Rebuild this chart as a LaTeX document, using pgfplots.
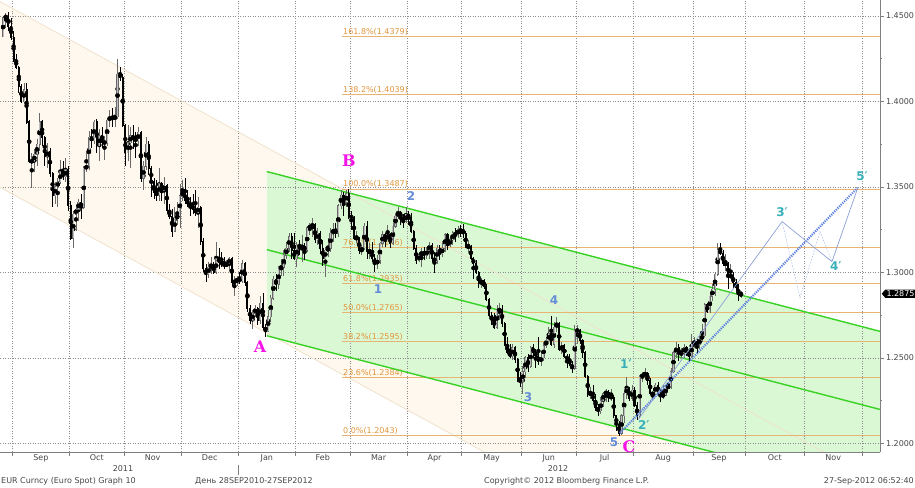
\documentclass[border=0pt]{standalone}
\usepackage{pgfplots}
\pgfplotsset{compat=1.18}
\usepackage{pgfplotstable}
\usepackage{fontspec}
\setmainfont{DejaVu Sans}
\newfontfamily\serifb{DejaVu Serif}
\usetikzlibrary{shapes.symbols}
\definecolor{gridc}{RGB}{140,140,140}
\definecolor{axc}{RGB}{128,128,128}
\definecolor{labc}{RGB}{70,70,70}
\definecolor{fibl}{RGB}{232,180,115}
\definecolor{fibt}{RGB}{226,150,60}
\definecolor{grl}{RGB}{55,210,35}
\definecolor{grf}{RGB}{218,248,212}
\definecolor{bgf}{RGB}{254,248,238}
\definecolor{bgl}{RGB}{240,226,205}
\definecolor{upc}{RGB}{105,105,105}
\definecolor{upi}{RGB}{190,190,190}
\definecolor{upw}{RGB}{105,105,105}
\definecolor{mag}{RGB}{245,20,230}
\definecolor{wblue}{RGB}{100,140,215}
\definecolor{wteal}{RGB}{55,175,185}
\definecolor{prj}{RGB}{140,160,215}
\definecolor{prjd}{RGB}{95,130,225}

\pgfplotstableread{
x o h l c
-4 1.4380 1.4500 1.4375 1.4490
-3 1.4490 1.4520 1.4440 1.4500
-2 1.4500 1.4525 1.4410 1.4440
-1 1.4440 1.4490 1.4360 1.4375
0 1.4375 1.4415 1.4230 1.4245
1 1.4245 1.4280 1.4190 1.4200
2 1.4200 1.4210 1.4050 1.4090
3 1.4090 1.4100 1.3990 1.4000
4 1.4000 1.4110 1.3990 1.4070
5 1.4070 1.4110 1.3870 1.3880
6 1.3880 1.3890 1.3640 1.3650
7 1.3650 1.3700 1.3495 1.3650
8 1.3650 1.3720 1.3590 1.3690
9 1.3690 1.3780 1.3620 1.3750
10 1.3750 1.3935 1.3710 1.3880
11 1.3880 1.3890 1.3740 1.3790
12 1.3790 1.3800 1.3620 1.3680
13 1.3680 1.3760 1.3610 1.3710
14 1.3710 1.3730 1.3560 1.3580
15 1.3580 1.3590 1.3385 1.3450
16 1.3450 1.3530 1.3400 1.3500
17 1.3500 1.3550 1.3380 1.3530
18 1.3530 1.3660 1.3520 1.3590
19 1.3590 1.3650 1.3540 1.3560
20 1.3560 1.3670 1.3530 1.3600
21 1.3600 1.3620 1.3360 1.3390
22 1.3390 1.3420 1.3190 1.3200
23 1.3200 1.3360 1.3145 1.3340
24 1.3340 1.3380 1.3240 1.3370
25 1.3370 1.3430 1.3300 1.3410
26 1.3410 1.3460 1.3310 1.3380
27 1.3380 1.3620 1.3370 1.3610
28 1.3610 1.3710 1.3590 1.3620
29 1.3620 1.3830 1.3600 1.3790
30 1.3790 1.3840 1.3730 1.3770
31 1.3770 1.3890 1.3750 1.3880
32 1.3880 1.3900 1.3700 1.3740
33 1.3740 1.3840 1.3650 1.3800
34 1.3800 1.3850 1.3730 1.3760
35 1.3760 1.3800 1.3660 1.3760
36 1.3760 1.3900 1.3740 1.3890
37 1.3890 1.3950 1.3850 1.3910
38 1.3910 1.3960 1.3850 1.3900
39 1.3900 1.3970 1.3850 1.3910
40 1.3910 1.4247 1.3900 1.4160
41 1.4160 1.4200 1.4120 1.4140
42 1.4140 1.4160 1.3850 1.3860
43 1.3860 1.3870 1.3620 1.3700
44 1.3700 1.3860 1.3650 1.3760
45 1.3760 1.3850 1.3610 1.3800
46 1.3800 1.3860 1.3720 1.3780
47 1.3780 1.3820 1.3670 1.3770
48 1.3770 1.3850 1.3740 1.3820
49 1.3820 1.3830 1.3530 1.3550
50 1.3550 1.3650 1.3480 1.3620
51 1.3620 1.3790 1.3600 1.3750
52 1.3750 1.3770 1.3570 1.3610
53 1.3610 1.3620 1.3440 1.3530
54 1.3530 1.3550 1.3430 1.3470
55 1.3470 1.3540 1.3420 1.3450
56 1.3450 1.3610 1.3420 1.3520
57 1.3520 1.3530 1.3420 1.3480
58 1.3480 1.3560 1.3400 1.3510
59 1.3510 1.3520 1.3350 1.3360
60 1.3360 1.3400 1.3310 1.3330
61 1.3330 1.3370 1.3210 1.3240
62 1.3240 1.3380 1.3240 1.3320
63 1.3320 1.3410 1.3280 1.3330
64 1.3330 1.3520 1.3260 1.3450
65 1.3450 1.3540 1.3420 1.3470
66 1.3470 1.3550 1.3400 1.3420
67 1.3420 1.3480 1.3380 1.3400
68 1.3400 1.3440 1.3330 1.3390
69 1.3390 1.3460 1.3340 1.3370
70 1.3370 1.3480 1.3330 1.3350
71 1.3350 1.3440 1.3260 1.3380
72 1.3380 1.3390 1.3160 1.3180
73 1.3180 1.3200 1.3000 1.3020
74 1.3020 1.3050 1.2945 1.2990
75 1.2990 1.3060 1.2970 1.3030
76 1.3030 1.3090 1.2990 1.3040
77 1.3040 1.3060 1.2990 1.3000
78 1.3000 1.3180 1.2990 1.3080
79 1.3080 1.3140 1.3020 1.3060
80 1.3060 1.3120 1.3030 1.3050
81 1.3050 1.3090 1.3020 1.3040
82 1.3040 1.3070 1.3030 1.3050
83 1.3050 1.3090 1.3010 1.3080
84 1.3080 1.3090 1.2920 1.2940
85 1.2940 1.2980 1.2860 1.2950
86 1.2950 1.2980 1.2920 1.2960
87 1.2960 1.3000 1.2930 1.2950
88 1.2950 1.3075 1.2940 1.3050
89 1.3050 1.3060 1.2920 1.2940
90 1.2940 1.2950 1.2770 1.2790
91 1.2790 1.2810 1.2700 1.2720
92 1.2720 1.2780 1.2670 1.2760
93 1.2760 1.2810 1.2740 1.2790
94 1.2790 1.2800 1.2690 1.2720
95 1.2720 1.2860 1.2700 1.2820
96 1.2820 1.2880 1.2660 1.2680
97 1.2680 1.2700 1.2624 1.2660
98 1.2660 1.2780 1.2650 1.2740
99 1.2740 1.2870 1.2710 1.2850
100 1.2850 1.2980 1.2840 1.2960
101 1.2960 1.2990 1.2890 1.2930
102 1.2930 1.3040 1.2900 1.3020
103 1.3020 1.3080 1.2980 1.3030
104 1.3030 1.3130 1.2980 1.3100
105 1.3100 1.3180 1.3080 1.3140
106 1.3140 1.3230 1.3120 1.3210
107 1.3210 1.3230 1.3080 1.3130
108 1.3130 1.3230 1.3070 1.3080
109 1.3080 1.3180 1.3030 1.3160
110 1.3160 1.3190 1.3100 1.3150
111 1.3150 1.3220 1.3060 1.3150
112 1.3150 1.3170 1.3070 1.3130
113 1.3130 1.3270 1.3120 1.3260
114 1.3260 1.3290 1.3220 1.3270
115 1.3270 1.3320 1.3210 1.3280
116 1.3280 1.3290 1.3170 1.3190
117 1.3190 1.3260 1.3160 1.3230
118 1.3230 1.3240 1.3110 1.3140
119 1.3140 1.3190 1.3040 1.3080
120 1.3080 1.3150 1.2975 1.3130
121 1.3130 1.3200 1.3090 1.3140
122 1.3140 1.3260 1.3120 1.3230
123 1.3230 1.3290 1.3180 1.3250
124 1.3250 1.3290 1.3200 1.3230
125 1.3230 1.3400 1.3210 1.3390
126 1.3390 1.3480 1.3370 1.3450
127 1.3450 1.3470 1.3330 1.3410
128 1.3410 1.3480 1.3380 1.3460
129 1.3460 1.3487 1.3310 1.3330
130 1.3330 1.3360 1.3250 1.3320
131 1.3320 1.3330 1.3190 1.3200
132 1.3200 1.3240 1.3170 1.3200
133 1.3200 1.3210 1.3110 1.3130
134 1.3130 1.3160 1.3100 1.3140
135 1.3140 1.3290 1.3130 1.3270
136 1.3270 1.3300 1.3080 1.3120
137 1.3120 1.3170 1.3080 1.3120
138 1.3120 1.3180 1.3060 1.3080
139 1.3080 1.3110 1.3000 1.3050
140 1.3050 1.3100 1.3020 1.3070
141 1.3070 1.3180 1.3050 1.3170
142 1.3170 1.3240 1.3150 1.3220
143 1.3220 1.3230 1.3150 1.3200
144 1.3200 1.3280 1.3190 1.3220
145 1.3220 1.3230 1.3140 1.3170
146 1.3170 1.3290 1.3160 1.3270
147 1.3270 1.3350 1.3260 1.3330
148 1.3330 1.3385 1.3310 1.3350
149 1.3350 1.3360 1.3280 1.3320
150 1.3320 1.3340 1.3260 1.3300
151 1.3300 1.3380 1.3290 1.3340
152 1.3340 1.3360 1.3280 1.3320
153 1.3320 1.3350 1.3230 1.3240
154 1.3240 1.3250 1.3130 1.3140
155 1.3140 1.3160 1.3050 1.3070
156 1.3070 1.3120 1.3060 1.3100
157 1.3100 1.3140 1.3030 1.3120
158 1.3120 1.3150 1.3070 1.3100
159 1.3100 1.3150 1.3080 1.3130
160 1.3130 1.3180 1.3080 1.3160
161 1.3160 1.3170 1.3060 1.3080
162 1.3080 1.3120 1.2995 1.3070
163 1.3070 1.3160 1.3050 1.3140
164 1.3140 1.3160 1.3070 1.3110
165 1.3110 1.3170 1.3090 1.3140
166 1.3140 1.3230 1.3120 1.3220
167 1.3220 1.3230 1.3130 1.3160
168 1.3160 1.3210 1.3150 1.3190
169 1.3190 1.3240 1.3160 1.3230
170 1.3230 1.3260 1.3180 1.3220
171 1.3220 1.3270 1.3200 1.3250
172 1.3250 1.3280 1.3210 1.3240
173 1.3240 1.3283 1.3200 1.3230
174 1.3230 1.3240 1.3140 1.3150
175 1.3150 1.3190 1.3120 1.3150
176 1.3150 1.3160 1.3070 1.3080
177 1.3080 1.3090 1.2960 1.3050
178 1.3050 1.3070 1.2990 1.3000
179 1.3000 1.3010 1.2910 1.2940
180 1.2940 1.2970 1.2910 1.2950
181 1.2950 1.2960 1.2900 1.2920
182 1.2920 1.2930 1.2830 1.2840
183 1.2840 1.2850 1.2740 1.2750
184 1.2750 1.2770 1.2690 1.2720
185 1.2720 1.2760 1.2670 1.2680
186 1.2680 1.2810 1.2670 1.2780
187 1.2780 1.2820 1.2720 1.2780
188 1.2780 1.2810 1.2680 1.2700
189 1.2700 1.2710 1.2570 1.2580
190 1.2580 1.2620 1.2520 1.2530
191 1.2530 1.2580 1.2500 1.2510
192 1.2510 1.2580 1.2490 1.2560
193 1.2560 1.2570 1.2470 1.2490
194 1.2490 1.2500 1.2360 1.2370
195 1.2370 1.2420 1.2330 1.2360
196 1.2360 1.2450 1.2288 1.2420
197 1.2420 1.2510 1.2380 1.2500
198 1.2500 1.2520 1.2420 1.2450
199 1.2450 1.2570 1.2440 1.2560
200 1.2560 1.2580 1.2500 1.2530
201 1.2530 1.2550 1.2440 1.2510
202 1.2510 1.2620 1.2460 1.2480
203 1.2480 1.2530 1.2450 1.2500
204 1.2500 1.2590 1.2480 1.2570
205 1.2570 1.2620 1.2560 1.2600
206 1.2600 1.2680 1.2590 1.2640
207 1.2640 1.2747 1.2570 1.2580
208 1.2580 1.2710 1.2560 1.2680
209 1.2680 1.2740 1.2650 1.2700
210 1.2700 1.2710 1.2540 1.2550
211 1.2550 1.2590 1.2520 1.2570
212 1.2570 1.2580 1.2500 1.2510
213 1.2510 1.2520 1.2440 1.2490
214 1.2490 1.2520 1.2450 1.2460
215 1.2460 1.2480 1.2410 1.2440
216 1.2440 1.2690 1.2430 1.2660
217 1.2660 1.2690 1.2580 1.2660
218 1.2660 1.2670 1.2580 1.2600
219 1.2600 1.2610 1.2500 1.2530
220 1.2530 1.2540 1.2380 1.2390
221 1.2390 1.2400 1.2270 1.2290
222 1.2290 1.2330 1.2260 1.2290
223 1.2290 1.2340 1.2240 1.2250
224 1.2250 1.2290 1.2190 1.2210
225 1.2210 1.2230 1.2160 1.2190
226 1.2190 1.2270 1.2170 1.2250
227 1.2250 1.2300 1.2210 1.2290
228 1.2290 1.2320 1.2240 1.2300
229 1.2300 1.2310 1.2240 1.2270
230 1.2270 1.2320 1.2250 1.2270
231 1.2270 1.2280 1.2150 1.2160
232 1.2160 1.2160 1.2070 1.2110
233 1.2110 1.2130 1.2043 1.2060
234 1.2060 1.2170 1.2050 1.2160
235 1.2160 1.2320 1.2120 1.2290
236 1.2290 1.2390 1.2260 1.2320
237 1.2320 1.2330 1.2250 1.2260
238 1.2260 1.2340 1.2250 1.2310
239 1.2310 1.2330 1.2210 1.2220
240 1.2220 1.2240 1.2135 1.2160
241 1.2160 1.2400 1.2150 1.2390
242 1.2390 1.2420 1.2360 1.2400
243 1.2400 1.2440 1.2370 1.2410
244 1.2410 1.2420 1.2340 1.2370
245 1.2370 1.2380 1.2280 1.2290
246 1.2290 1.2300 1.2260 1.2290
247 1.2290 1.2350 1.2280 1.2340
248 1.2340 1.2360 1.2280 1.2290
249 1.2290 1.2320 1.2240 1.2280
250 1.2280 1.2340 1.2260 1.2280
251 1.2280 1.2340 1.2280 1.2330
252 1.2330 1.2360 1.2320 1.2330
253 1.2330 1.2440 1.2320 1.2420
254 1.2420 1.2540 1.2410 1.2530
255 1.2530 1.2590 1.2500 1.2560
256 1.2560 1.2580 1.2480 1.2520
257 1.2520 1.2560 1.2500 1.2530
258 1.2530 1.2580 1.2500 1.2560
259 1.2560 1.2570 1.2510 1.2530
260 1.2530 1.2560 1.2480 1.2510
261 1.2510 1.2640 1.2500 1.2580
262 1.2580 1.2620 1.2560 1.2590
263 1.2590 1.2610 1.2520 1.2580
264 1.2580 1.2630 1.2550 1.2610
265 1.2610 1.2700 1.2590 1.2630
266 1.2630 1.2820 1.2620 1.2810
267 1.2810 1.2820 1.2760 1.2770
268 1.2770 1.2880 1.2760 1.2860
269 1.2860 1.2930 1.2830 1.2900
270 1.2900 1.3000 1.2860 1.2990
271 1.2990 1.3172 1.2980 1.3130
272 1.3130 1.3170 1.3100 1.3110
273 1.3110 1.3130 1.3040 1.3050
274 1.3050 1.3110 1.3010 1.3050
275 1.3050 1.3060 1.2900 1.2980
276 1.2980 1.3050 1.2960 1.2980
277 1.2980 1.3000 1.2910 1.2940
278 1.2940 1.2960 1.2890 1.2910
279 1.2910 1.2930 1.2830 1.2870
280 1.2870 1.2890 1.2850 1.2875
}\eur

\begin{document}
\begin{tikzpicture}
\begin{axis}[
  set layers,
  clip mode=individual,
  width=880pt, height=452pt, scale only axis,
  at={(0pt,35pt)}, anchor=south west,
  xmin=-5.23, xmax=333.5, ymin=1.1949, ymax=1.4594,
  axis x line*=bottom, axis y line*=right,
  axis line style={draw=axc, line width=0.7pt, -},
  tick align=outside,
  major tick length=3.5pt, minor tick length=2pt,
  tick style={draw=axc, line width=0.6pt},
  xtick={-0.5,21.5,42.5,64.5,86.5,108.5,129.5,151.5,172.5,195.5,216.5,238.5,261.5,281.5,304.5,326.5},
  xticklabels={,,,,,,,,,,,,,,,},
  extra x ticks={10.5,32,53.5,75.5,97.5,119,140.5,162,184,206,227.5,250,271.5,293,315.5},
  extra x tick labels={Sep,Oct,Nov,Dec,Jan,Feb,Mar,Apr,May,Jun,Jul,Aug,Sep,Oct,Nov},
  extra x tick style={grid=none, major tick length=0pt},
  xticklabel style={font=\fontsize{8}{9}\selectfont, text=labc, yshift=1pt},
  ytick={1.20,1.25,1.30,1.35,1.40,1.45},
  minor ytick={1.225,1.275,1.325,1.375,1.425},
  yticklabel style={font=\fontsize{8}{9}\selectfont, text=labc, xshift=-1pt,
    /pgf/number format/.cd, fixed, fixed zerofill, precision=4, assume math mode=true},
  grid=major,
  major grid style={draw=gridc, line width=0.5pt, dash pattern=on 1pt off 1.5pt},
]
% beige wide channel
\addplot[on layer=axis background, fill=bgf, draw=none] coordinates {(-5.23,1.4585) (333.5,1.1768) (333.5,1.0683) (-5.23,1.3498)} -- cycle;
% green channel fill
\addplot[on layer=axis background, fill=grf, draw=none] coordinates {(97.5,1.3590) (333.5,1.2655) (333.5,1.1694) (97.5,1.2629)} -- cycle;
% beige channel lines
\addplot[draw=bgl, line width=0.8pt] coordinates {(-5.23,1.4585) (333.5,1.1768)};
\addplot[draw=bgl, line width=0.8pt] coordinates {(-5.23,1.3498) (333.5,1.0683)};
% Fibonacci levels
\addplot[draw=fibl, line width=0.9pt] coordinates {(126.4,1.4379) (333.5,1.4379)} node[pos=0, anchor=south west, inner sep=0.8pt, text=fibt, font=\fontsize{8}{9}\selectfont] {161.8\%(1.4379)};
\addplot[draw=fibl, line width=0.9pt] coordinates {(126.4,1.4039) (333.5,1.4039)} node[pos=0, anchor=south west, inner sep=0.8pt, text=fibt, font=\fontsize{8}{9}\selectfont] {138.2\%(1.4039)};
\addplot[draw=fibl, line width=0.9pt] coordinates {(126.4,1.3487) (333.5,1.3487)} node[pos=0, anchor=south west, inner sep=0.8pt, text=fibt, font=\fontsize{8}{9}\selectfont] {100.0\%(1.3487)};
\addplot[draw=fibl, line width=0.9pt] coordinates {(126.4,1.3146) (333.5,1.3146)} node[pos=0, anchor=south west, inner sep=0.8pt, text=fibt, font=\fontsize{8}{9}\selectfont] {76.4\%(1.3146)};
\addplot[draw=fibl, line width=0.9pt] coordinates {(126.4,1.2935) (333.5,1.2935)} node[pos=0, anchor=south west, inner sep=0.8pt, text=fibt, font=\fontsize{8}{9}\selectfont] {61.8\%(1.2935)};
\addplot[draw=fibl, line width=0.9pt] coordinates {(126.4,1.2765) (333.5,1.2765)} node[pos=0, anchor=south west, inner sep=0.8pt, text=fibt, font=\fontsize{8}{9}\selectfont] {50.0\%(1.2765)};
\addplot[draw=fibl, line width=0.9pt] coordinates {(126.4,1.2595) (333.5,1.2595)} node[pos=0, anchor=south west, inner sep=0.8pt, text=fibt, font=\fontsize{8}{9}\selectfont] {38.2\%(1.2595)};
\addplot[draw=fibl, line width=0.9pt] coordinates {(126.4,1.2384) (333.5,1.2384)} node[pos=0, anchor=south west, inner sep=0.8pt, text=fibt, font=\fontsize{8}{9}\selectfont] {23.6\%(1.2384)};
\addplot[draw=fibl, line width=0.9pt] coordinates {(126.4,1.2043) (333.5,1.2043)} node[pos=0, anchor=south west, inner sep=0.8pt, text=fibt, font=\fontsize{8}{9}\selectfont] {0.0\%(1.2043)};
% green channel lines
\addplot[draw=grl, line width=1.4pt] coordinates {(97.5,1.3590) (333.5,1.2655)};
\addplot[draw=grl, line width=1.4pt] coordinates {(97.5,1.3133) (333.5,1.2198)};
\addplot[draw=grl, line width=1.4pt] coordinates {(97.5,1.2629) (333.5,1.1694)};
% candle wicks
\addplot[only marks, mark=none, restrict expr to domain={\thisrow{c}-\thisrow{o}}{0:1},
  error bars/.cd, y dir=both, y explicit, error mark=none, error bar style={draw=upw, line width=0.6pt}]
  table[x=x, y expr={(\thisrow{h}+\thisrow{l})/2}, y error expr={(\thisrow{h}-\thisrow{l})/2}] {\eur};
\addplot[only marks, mark=none, restrict expr to domain={\thisrow{c}-\thisrow{o}}{-1:-0.00001},
  error bars/.cd, y dir=both, y explicit, error mark=none, error bar style={draw=black, line width=0.6pt}]
  table[x=x, y expr={(\thisrow{h}+\thisrow{l})/2}, y error expr={(\thisrow{h}-\thisrow{l})/2}] {\eur};
% candle bodies: up (hollow grey), down (black)
\addplot[only marks, mark=none, restrict expr to domain={\thisrow{c}-\thisrow{o}}{0:1},
  error bars/.cd, y dir=both, y explicit, error mark=none, error bar style={draw=upc, line width=2.1pt}]
  table[x=x, y expr={(\thisrow{o}+\thisrow{c})/2}, y error expr={abs(\thisrow{c}-\thisrow{o})/2+0.0003}] {\eur};
\addplot[only marks, mark=none, restrict expr to domain={\thisrow{c}-\thisrow{o}}{0:1},
  error bars/.cd, y dir=both, y explicit, error mark=none, error bar style={draw=upi, line width=0.8pt}]
  table[x=x, y expr={(\thisrow{o}+\thisrow{c})/2}, y error expr={abs(\thisrow{c}-\thisrow{o})/2}] {\eur};
\addplot[only marks, mark=none, restrict expr to domain={\thisrow{c}-\thisrow{o}}{-1:-0.00001},
  error bars/.cd, y dir=both, y explicit, error mark=none, error bar style={draw=black, line width=2.1pt}]
  table[x=x, y expr={(\thisrow{o}+\thisrow{c})/2}, y error expr={abs(\thisrow{c}-\thisrow{o})/2+0.0003}] {\eur};
% projections
\addplot[draw=prjd, line width=2.2pt, dash pattern=on 1.2pt off 1.1pt] coordinates {(233.4,1.2060) (325.0,1.3497)};
\addplot[draw=prj, line width=0.7pt] coordinates {(240.5,1.2140) (295.8,1.3297) (315.0,1.3063) (325.0,1.3497)};
\addplot[draw=prj!70, line width=0.6pt, dash pattern=on 1.5pt off 1.5pt] coordinates {(295.8,1.3297) (302.7,1.2852) (310.4,1.3239) (315.0,1.3063)};
% wave labels
\node[text=mag, font=\serifb\bfseries\fontsize{16}{16}\selectfont] at (axis cs:94.9,1.2565) {A};
\node[text=mag, font=\serifb\bfseries\fontsize{16}{16}\selectfont] at (axis cs:129.1,1.3654) {B};
\node[text=mag, font=\serifb\bfseries\fontsize{16}{16}\selectfont] at (axis cs:236.9,1.1978) {C};
\node[text=wblue, font=\bfseries\fontsize{12}{12}\selectfont] at (axis cs:140.3,1.2905) {1};
\node[text=wblue, font=\bfseries\fontsize{12}{12}\selectfont] at (axis cs:153.0,1.3444) {2};
\node[text=wblue, font=\bfseries\fontsize{12}{12}\selectfont] at (axis cs:198.0,1.2271) {3};
\node[text=wblue, font=\bfseries\fontsize{12}{12}\selectfont] at (axis cs:208.0,1.2840) {4};
\node[text=wblue, font=\bfseries\fontsize{12}{12}\selectfont] at (axis cs:231.1,1.2008) {5};
\node[text=wteal, font=\bfseries\fontsize{12}{12}\selectfont] at (axis cs:235.7,1.2466) {1′};
\node[text=wteal, font=\bfseries\fontsize{12}{12}\selectfont] at (axis cs:242.6,1.2108) {2′};
\node[text=wteal, font=\bfseries\fontsize{12}{12}\selectfont] at (axis cs:295.8,1.3350) {3′};
\node[text=wteal, font=\bfseries\fontsize{12}{12}\selectfont] at (axis cs:316.5,1.3039) {4′};
\node[text=wteal, font=\bfseries\fontsize{12}{12}\selectfont] at (axis cs:326.6,1.3561) {5′};
% last price tag
\node[shape=signal, signal to=west, signal pointer angle=100, fill=black, text=white, inner sep=1.2pt,
  font=\fontsize{8}{9}\selectfont, anchor=west] at (axis cs:333.5,1.2875) [xshift=1.5pt] {1.2875};
\end{axis}
% year labels, separator and footer
\node[text=labc, font=\fontsize{8}{9}\selectfont] at (123pt,18pt) {2011};
\node[text=labc, font=\fontsize{8}{9}\selectfont] at (558pt,18pt) {2012};
\draw[axc, line width=0.6pt] (238.7pt,12pt) -- (238.7pt,22pt);
\node[text=labc, font=\fontsize{8}{9}\selectfont, anchor=west, inner sep=0pt] at (1pt,6pt) {EUR Curncy (Euro Spot) Graph 10};
\node[text=labc, font=\fontsize{8}{9}\selectfont, anchor=west, inner sep=0pt] at (195pt,6pt) {День 28SEP2010-27SEP2012};
\node[text=labc, font=\fontsize{8}{9}\selectfont, anchor=west, inner sep=0pt] at (484pt,6pt) {Copyright© 2012 Bloomberg Finance L.P.};
\node[text=labc, font=\fontsize{8}{9}\selectfont, anchor=east, inner sep=0pt] at (914pt,6pt) {27-Sep-2012 06:52:40};
\pgfresetboundingbox
\path[use as bounding box] (0,0) rectangle (915pt,487pt);
\end{tikzpicture}
\end{document}
